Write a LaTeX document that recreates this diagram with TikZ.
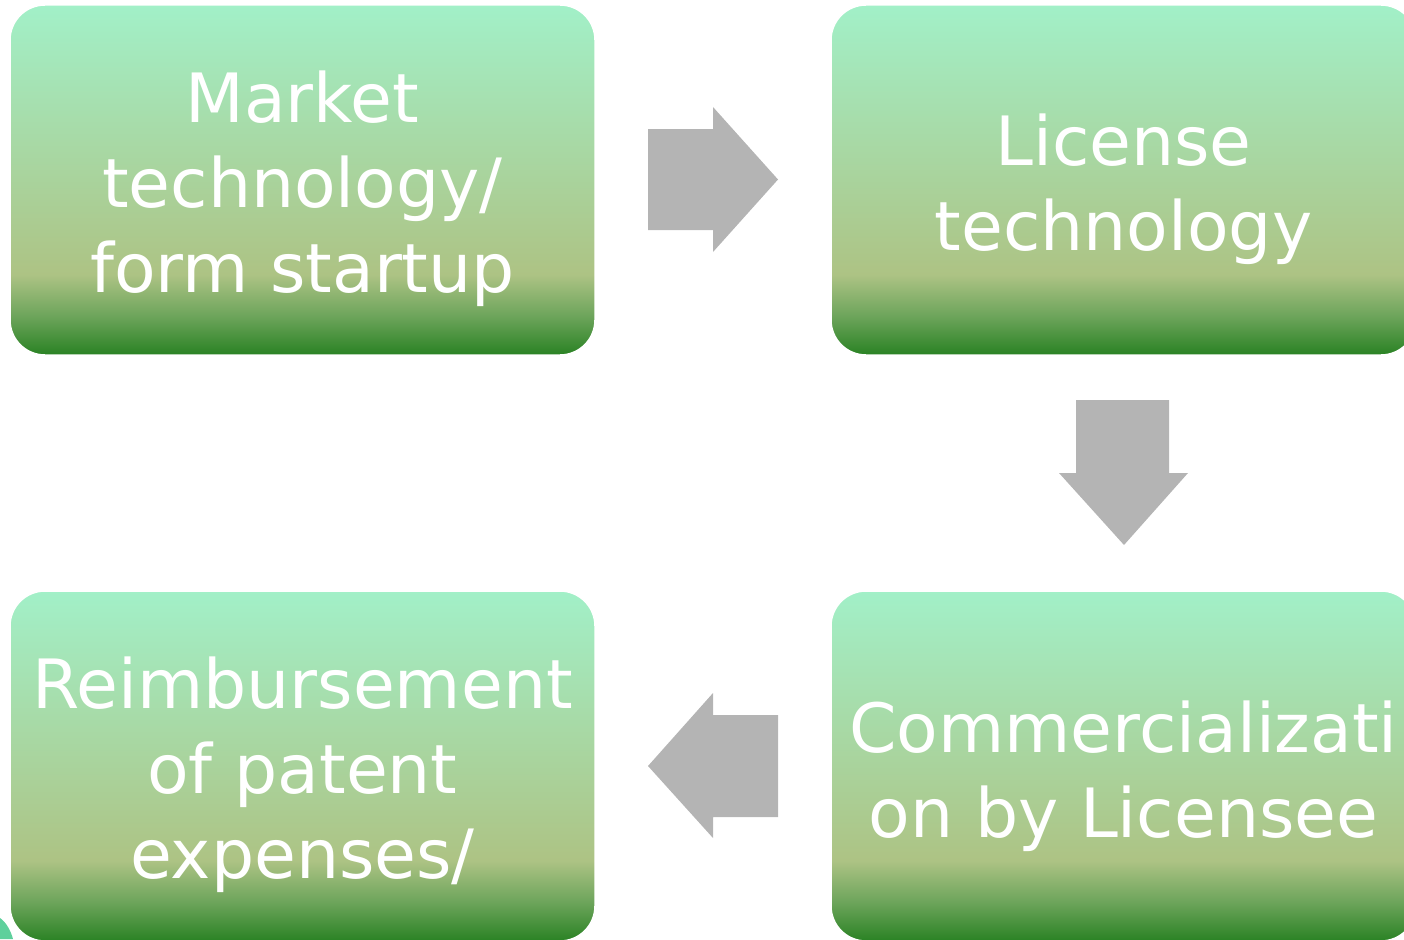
\documentclass[tikz,border=0pt]{standalone}
\usepackage{fontspec}
\setmainfont{DejaVu Sans}
\definecolor{gmint}{HTML}{A2F0C8}
\definecolor{gtan}{HTML}{ADC384}
\definecolor{gmid}{HTML}{6CA45A}
\definecolor{gdark}{HTML}{2A8224}
\definecolor{arrowgray}{HTML}{B4B4B4}
\definecolor{tealbit}{HTML}{5ED09C}
\pgfdeclareverticalshading{boxgrad}{100bp}{color(0bp)=(gdark); color(25bp)=(gdark); color(30.5bp)=(gmid); color(36.5bp)=(gtan); color(75bp)=(gmint); color(100bp)=(gmint)}
\tikzset{
  stepbox/.style={minimum width=585pt, minimum height=350pt, rounded corners=35pt, shading=boxgrad, draw=white, line width=1.5pt, inner sep=0pt},
  boxtext/.style={font=\fontsize{68}{85}\selectfont, align=center, text=white, inner sep=0pt},
  blockarrow/.style={fill=arrowgray, draw=none}
}
\begin{document}
\begin{tikzpicture}[x=1pt,y=-1pt]
\useasboundingbox (0,0) rectangle (1404,939);
\fill[tealbit] (0,918) .. controls (6,922) and (11,931) .. (13,939) -- (0,939) -- cycle;
\node[stepbox] (a) at (302.5,180) {};
\node[stepbox] (b) at (1123.5,180) {};
\node[stepbox] (c) at (1123.5,766) {};
\node[stepbox] (d) at (302.5,766) {};
\node[boxtext, yshift=-9pt] (ta) at (a.center) {Market\\technology/\\form startup};
\node[boxtext, yshift=-9pt] (tb) at (b.center) {License\\technology};
\node[boxtext, yshift=-10pt] (tc) at (c.center) {Commercializati\\on by Licensee};
\node[boxtext, yshift=-9pt] (td) at (d.center) {Reimbursement\\of patent\\expenses/};
% right arrow
\fill[blockarrow] (648,129) -- (713,129) -- (713,107) -- (778,179.5) -- (713,252) -- (713,230) -- (648,230) -- cycle;
% down arrow
\fill[blockarrow] (1076,400) -- (1169,400) -- (1169,473) -- (1188,473) -- (1124,545) -- (1059,473) -- (1076,473) -- cycle;
% left arrow
\fill[blockarrow] (778,715) -- (713,715) -- (713,693) -- (648,766) -- (713,838) -- (713,817) -- (778,817) -- cycle;
\end{tikzpicture}
\end{document}
